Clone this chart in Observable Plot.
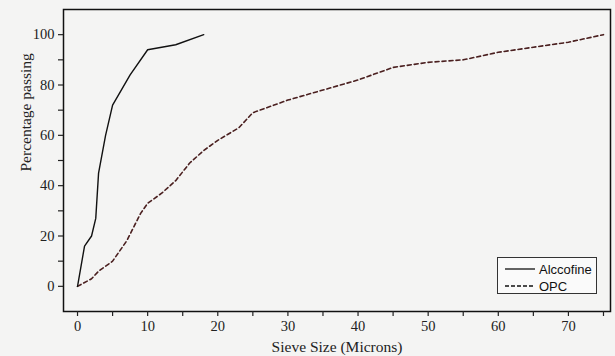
<!DOCTYPE html>
<html>
<head>
<meta charset="utf-8">
<script src="https://cdn.jsdelivr.net/npm/d3@7"></script>
<script src="https://cdn.jsdelivr.net/npm/@observablehq/plot@0.6"></script>
<style>
  html, body { margin: 0; padding: 0; background: #f4f4f3; }
  #wrap { position: relative; width: 615px; height: 356px; }
  #legend { position: absolute; left: 497px; top: 257px; width: 100px; height: 37px;
    border: 1px solid #333; background: #fafafa; box-sizing: border-box;
    font-family: "Liberation Sans", Arial, sans-serif; font-size: 13px; color: #111; }
  #legend .row { position: absolute; left: 6px; height: 16px; display: flex; align-items: center; }
  #legend svg { margin-right: 3px; }
</style>
</head>
<body>
<div id="wrap"></div>
<script>
// Data
const alccofineX = [0, 1, 2, 2.6, 3, 4, 5, 7.5, 10, 14, 18];
const alccofineY = [0, 16, 20, 27, 45, 60, 72, 84, 94, 96, 100];
const opcX = [0, 2, 3, 5, 7, 9, 10, 12, 14, 16, 18, 20, 23, 24, 25, 30, 35, 40, 45, 50, 55, 60, 65, 70, 75];
const opcY = [0, 3, 6, 10, 18, 29, 33, 37, 42, 49, 54, 58, 63, 66, 69, 74, 78, 82, 87, 89, 90, 93, 95, 97, 100];
const seriesNames = ["Alccofine", "OPC"];
const xTicks = d3.range(0, 76, 5);
const yTicks = d3.range(0, 101, 10);

const alccofine = alccofineX.map((x, i) => ({x, y: alccofineY[i]}));
const opc = opcX.map((x, i) => ({x, y: opcY[i]}));

const serif = "'Liberation Serif', 'Times New Roman', serif";

const chart = Plot.plot({
  width: 615,
  height: 356,
  marginLeft: 63,
  marginTop: 9,
  marginRight: 5,
  marginBottom: 45,
  style: { background: "transparent", fontFamily: serif, fontSize: "14px", color: "#222" },
  x: { domain: [-2, 76] },
  y: { domain: [-10, 110] },
  marks: [
    Plot.frame({ stroke: "#111", strokeWidth: 1.5 }),
    Plot.axisX({ ticks: xTicks, tickSize: 5, tickPadding: 4, fontSize: 14.5,
      tickFormat: d => d % 10 === 0 ? d : "", label: null, strokeWidth: 1.2 }),
    Plot.axisY({ ticks: yTicks, tickSize: 5, tickPadding: 4, fontSize: 14.5,
      tickFormat: d => d % 20 === 0 ? d : "", label: null, strokeWidth: 1.2 }),
    Plot.line(opc, { x: "x", y: "y", stroke: "#4a1f1f", strokeWidth: 1.6, strokeDasharray: "4,3" }),
    Plot.line(alccofine, { x: "x", y: "y", stroke: "#111", strokeWidth: 1.4 }),
    Plot.text(["Sieve Size (Microns)"], { frameAnchor: "bottom", dy: 40, fontSize: 15.5, fill: "#222" }),
    Plot.text(["Percentage passing"], { frameAnchor: "left", dx: -37, dy: 11, rotate: -90, fontSize: 15.5, fill: "#222" })
  ]
});

const wrap = document.getElementById("wrap");
wrap.appendChild(chart);

const legend = document.createElement("div");
legend.id = "legend";
const styles = [{ dash: "none", color: "#111" }, { dash: "4,2", color: "#111" }];
seriesNames.forEach((name, i) => {
  const row = document.createElement("div");
  row.className = "row";
  row.style.top = (3 + i * 17) + "px";
  row.innerHTML = `<svg width="32" height="6"><line x1="1" x2="31" y1="3" y2="3" stroke="${styles[i].color}" stroke-width="1.3" stroke-dasharray="${styles[i].dash}"/></svg><span>${name}</span>`;
  legend.appendChild(row);
});
wrap.appendChild(legend);
</script>
</body>
</html>
